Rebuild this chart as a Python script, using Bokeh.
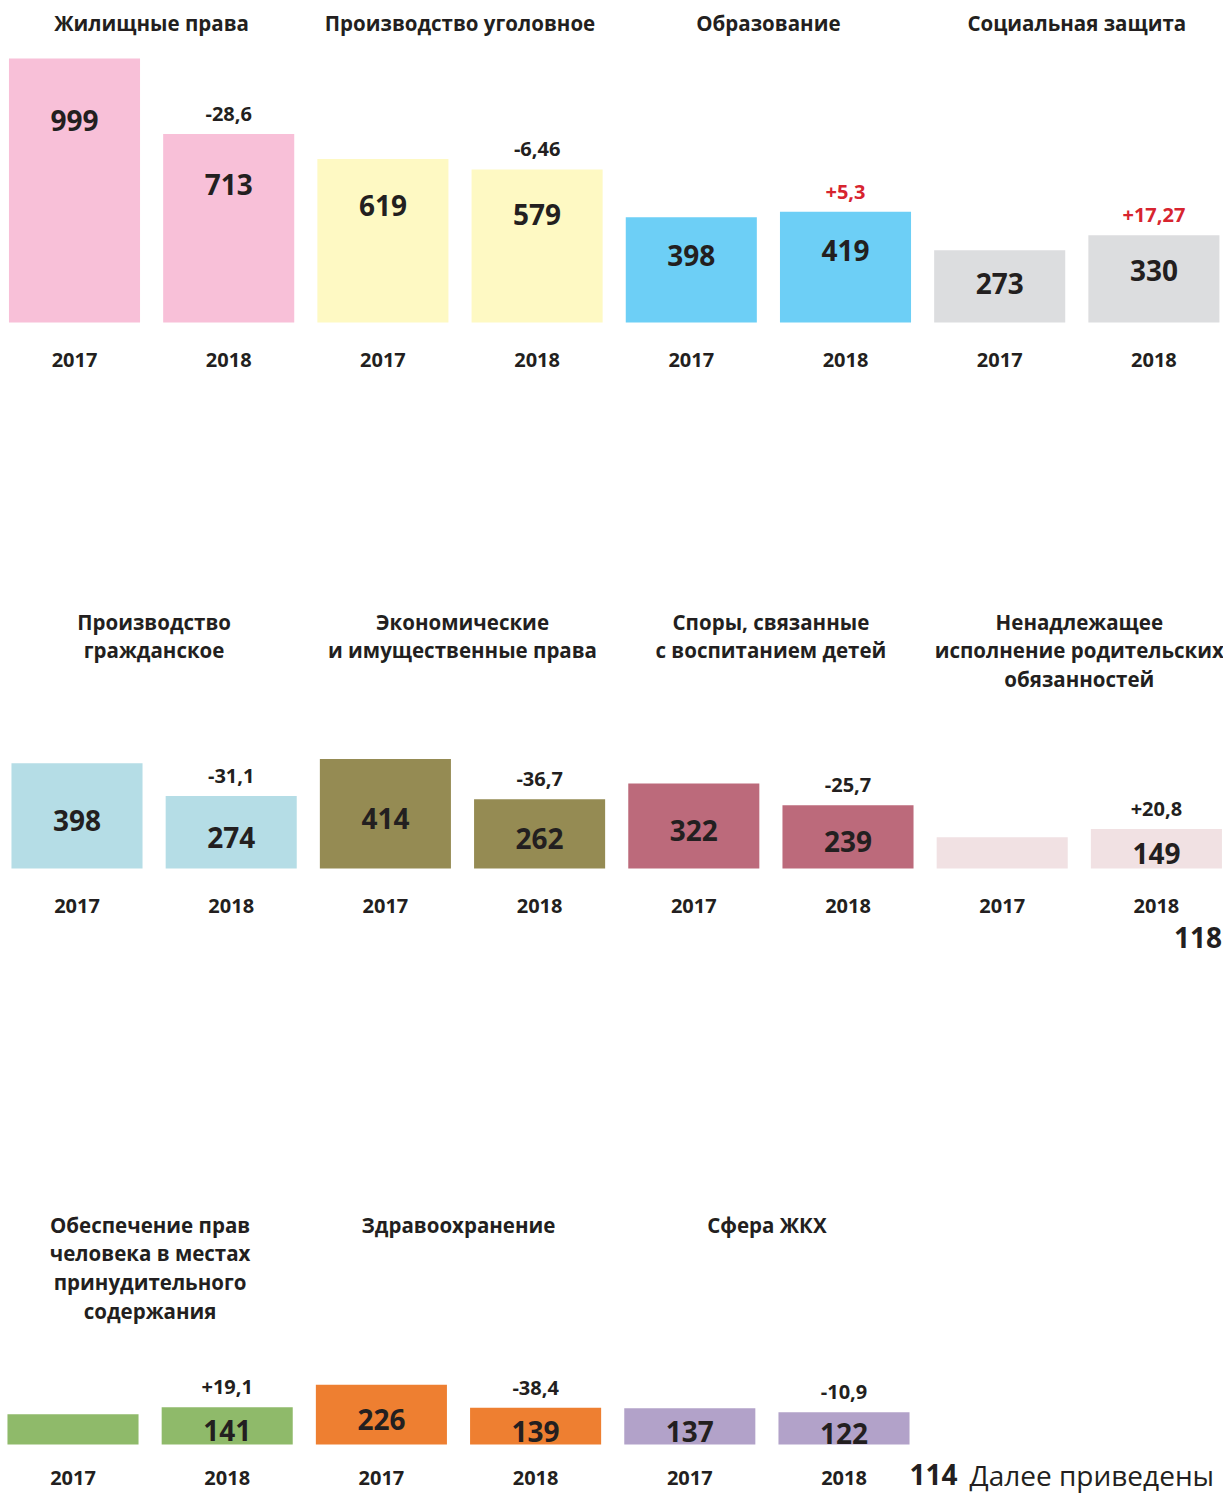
from bokeh.plotting import figure
from bokeh.layouts import column
from bokeh.models import Range1d
from bokeh.core.properties import value
from bokeh.embed import file_html
from bokeh.resources import INLINE

# ---------------- data ----------------
years = ["2017", "2018"]

row1_titles = ["Жилищные права", "Производство уголовное", "Образование", "Социальная защита"]
row1_v2017 = [999, 619, 398, 273]
row1_v2018 = [713, 579, 419, 330]
row1_delta = ["-28,6", "-6,46", "+5,3", "+17,27"]

row2_titles = ["Производство\nгражданское",
               "Экономические\nи имущественные права",
               "Споры, связанные\nс воспитанием детей",
               "Ненадлежащее\nисполнение родительских\nобязанностей"]
row2_v2017 = [398, 414, 322, 118]
row2_v2018 = [274, 262, 239, 149]
row2_delta = ["-31,1", "-36,7", "-25,7", "+20,8"]

row3_titles = ["Обеспечение прав\nчеловека в местах\nпринудительного\nсодержания",
               "Здравоохранение",
               "Сфера ЖКХ"]
row3_v2017 = [114, 226, 137]
row3_v2018 = [141, 139, 122]
row3_delta = ["+19,1", "-38,4", "-10,9"]

footer_text = "Далее приведены"

# ---------------- styles ----------------
row1_colors = ["#f8c0d8", "#fef9c3", "#6dcff6", "#dcdddf"]
row2_colors = ["#b5dde6", "#958b53", "#bc6a7b", "#f1e1e3"]
row3_colors = ["#8fba6a", "#ee7f31", "#b2a2c9"]
RED = "#d7242f"
INK = "#231f20"
row1_delta_colors = [INK, INK, RED, RED]
row2_delta_colors = [INK, INK, INK, INK]
row3_delta_colors = [INK, INK, INK]

FONT = value("Open Sans")
PX_PER_UNIT = 0.2643
UPP = 1.0 / PX_PER_UNIT
SLOT_PX = 154.2
W = 1223
BAR_W = 0.85


def make_row(titles, v17, v18, deltas, colors, dcolors, height, baseline, title_top,
             first_center_px, label_frac, label_off, year_off, specials):
    x0 = -first_center_px / SLOT_PX
    p = figure(width=W, height=height, output_backend="svg", toolbar_location=None,
               x_range=Range1d(x0, x0 + W / SLOT_PX),
               y_range=Range1d(-(height - baseline) * UPP, baseline * UPP),
               min_border=0, x_axis_type=None, y_axis_type=None)
    p.outline_line_color = None
    p.grid.visible = False
    p.background_fill_color = "white"
    p.border_fill_color = "white"

    bx, btop, bcol = [], [], []
    for g in range(len(titles)):
        for k, v in enumerate((v17[g], v18[g])):
            bx.append(2 * g + k)
            btop.append(v)
            bcol.append(colors[g])
    p.vbar(x=bx, top=btop, bottom=0, width=BAR_W, fill_color=bcol, line_color=None)

    # titles
    tx, ty, tt, toff = [], [], [], []
    for g, t in enumerate(titles):
        for li, line in enumerate(t.split("\n")):
            tx.append(2 * g + 0.5)
            ty.append(baseline * UPP)
            tt.append(line)
            toff.append(title_top + li * 28.8)
    p.text(x=tx, y=ty, text=tt, y_offset=toff, text_align="center", text_baseline="middle",
           text_font=FONT, text_font_style="bold", text_font_size=value("20.5px"), text_color=INK)

    # years
    yx = list(range(2 * len(titles)))
    p.text(x=yx, y=[0] * len(yx), text=[years[i % 2] for i in yx], y_offset=year_off,
           text_align="center", text_baseline="middle", text_font=FONT, text_font_style="bold",
           text_font_size=value("20px"), text_color=INK)

    # deltas
    p.text(x=[2 * g + 1 for g in range(len(titles))], y=list(v18), text=list(deltas), y_offset=-20,
           text_align="center", text_baseline="middle", text_font=FONT, text_font_style="bold",
           text_font_size=value("20px"), text_color=list(dcolors))

    # value labels
    lx, ly, lt = [], [], []
    for g in range(len(titles)):
        for k, v in enumerate((v17[g], v18[g])):
            if (g, k) in specials:
                sp = specials[(g, k)]
                p.text(x=[sp["x"]], y=[0], text=[str(v)], y_offset=sp["dy"], text_align=sp["align"],
                       text_baseline="middle", text_font=FONT, text_font_style="bold",
                       text_font_size=value("28px"), text_color=INK)
                if sp.get("suffix"):
                    p.text(x=[sp["x"]], y=[0], text=[sp["suffix"]], y_offset=sp["dy"], x_offset=60,
                           text_align="left", text_baseline="middle", text_font=FONT,
                           text_font_size=value("28px"), text_color=INK)
                continue
            lx.append(2 * g + k)
            ly.append(v * label_frac)
            lt.append(str(v))
    p.text(x=lx, y=ly, text=lt, y_offset=label_off, text_align="center", text_baseline="middle",
           text_font=FONT, text_font_style="bold", text_font_size=value("28px"), text_color=INK)
    return p


p1 = make_row(row1_titles, row1_v2017, row1_v2018, row1_delta, row1_colors, row1_delta_colors,
              400, 322, 22, 74, 0.85, 22, 37, {})
p2 = make_row(row2_titles, row2_v2017, row2_v2018, row2_delta, row2_colors, row2_delta_colors,
              560, 468, 221, 76.5, 0.5, 5, 37,
              {(3, 0): dict(x=7 + BAR_W / 2, dy=69, align="right")})
p3 = make_row(row3_titles, row3_v2017, row3_v2018, row3_delta, row3_colors, row3_delta_colors,
              533, 484, 264, 72.5, 0.5, 5, 33,
              {(0, 0): dict(x=5 + BAR_W / 2, dy=30, align="left", suffix=footer_text)})

layout = column(p1, p2, p3, spacing=0)
open("out.html", "w").write(file_html(layout, INLINE))
